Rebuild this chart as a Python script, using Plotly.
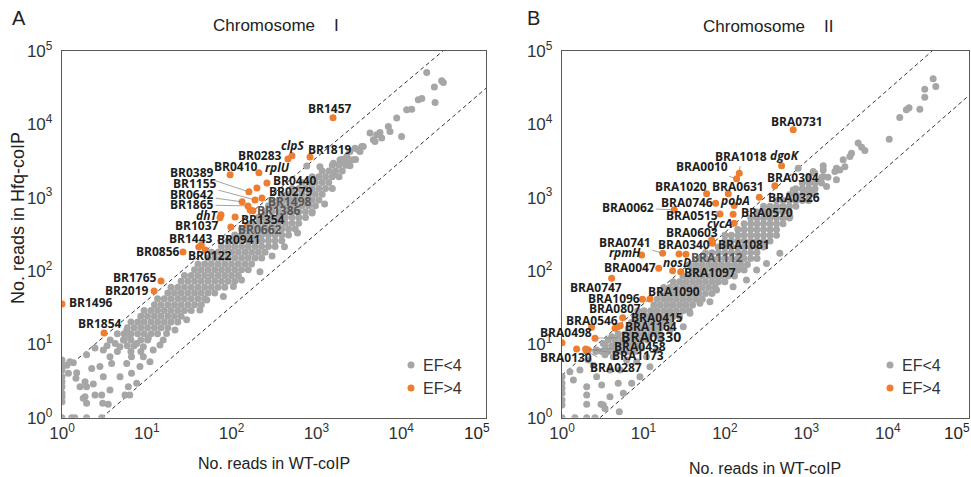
import math
import plotly.graph_objects as go

W, H = 971, 477

# ======================= DATA : Chromosome I (panel A) =======================
# gray cloud (EF<4), dense band stored row by row (Hfq-coIP reads per row)
gray_a_row_y = [8, 9.6, 11.5, 14, 16.8, 20.2, 24.2, 29, 34.8, 41.8, 50.2, 60.2, 72.3, 86.7,
                104, 125, 150, 180, 216, 259, 311, 373, 448, 537, 645, 774, 929, 1115, 1338,
                1605, 1926, 2311, 2773, 3328]
gray_a_row_x = [
    [4.5, 6.5, 8.5],
    [3.4, 5.9, 7.1],
    [3.7, 5.4, 6.5, 8.5, 10.2],
    [4.5, 5.4, 6.5, 7.8, 9.3, 11.2, 13.4],
    [5.9, 7.1, 8.5, 10.2, 12.3, 14.7, 17.7],
    [6.5, 7.8, 9.3, 11.2, 13.4, 16.1, 19.3, 23.2],
    [8.5, 10.2, 12.3, 14.7, 17.7, 21.2, 25.4],
    [9.3, 11.2, 13.4, 16.1, 19.3, 23.2, 27.8, 33.4],
    [12.3, 14.7, 17.7, 21.2, 25.4, 30.5, 36.6, 43.9],
    [13.4, 16.1, 19.3, 23.2, 27.8, 33.4, 40.1, 48.1],
    [17.7, 21.2, 25.4, 30.5, 36.6, 43.9, 52.7, 63.2],
    [19.3, 23.2, 27.8, 33.4, 40.1, 48.1, 57.7, 69.3, 83.1],
    [25.4, 30.5, 36.6, 43.9, 52.7, 63.2, 75.9, 91, 109],
    [27.8, 33.4, 40.1, 48.1, 57.7, 69.3, 83.1, 99.8, 120],
    [36.6, 43.9, 52.7, 63.2, 75.9, 91, 109, 131, 157],
    [40.1, 48.1, 57.7, 69.3, 83.1, 99.8, 120, 144, 172],
    [52.7, 63.2, 75.9, 91, 109, 131, 157, 189, 226],
    [57.7, 69.3, 83.1, 99.8, 120, 144, 172, 207, 248],
    [75.9, 91, 109, 131, 157, 189, 226, 272, 326],
    [91, 109, 131, 157, 189, 226, 272, 326, 391],
    [109, 131, 157, 189, 226, 272, 326, 391, 469],
    [131, 157, 189, 226, 272, 326, 391, 469, 563],
    [172, 207, 248, 298, 358, 430, 516, 619],
    [207, 248, 298, 358, 430, 516, 619, 743],
    [248, 298, 358, 430, 516, 619, 743, 892],
    [272, 326, 391, 469, 563, 676, 811, 973],
    [298, 358, 430, 516, 619, 743, 892, 1070],
    [391, 469, 563, 676, 811, 973, 1170],
    [516, 619, 743, 892, 1070, 1280, 1540],
    [676, 811, 973, 1170, 1400],
    [892, 1070, 1280, 1540, 1850],
    [1170, 1400, 1680, 2020],
    [1540, 1850, 2220],
    [2020, 2430, 2900],
]
# scattered gray points (low counts, lower edge, high-count tail)
gray_a_sparse_x = [1, 1, 1, 1, 1, 1, 1, 1, 1, 1,
                   1.3, 1.42, 1.95, 2.94,
                   1.19, 1.49, 1.46, 1.95, 2.34, 3.07, 1.87, 2.45, 2.94, 3.02, 1.95, 3.68, 4.83,
                   5.53, 6.06, 6.6, 7.6, 3.85, 3.07, 3.68, 4.24, 4.83, 2.8, 2.24, 1.87, 1.63,
                   1.14, 1.36, 5.8, 6.6, 8.3, 9.1, 10.9, 7.6, 6.3, 5.3, 5.8, 9.1, 11.9, 14.3,
                   15.6, 10.4, 17.1, 21.5, 29.5, 1.78, 3.51, 6.3, 1.24, 1.95, 2.45,
                   42.3, 50.9, 80, 105, 131, 216, 300, 420, 600, 890, 1250,
                   20000, 30000, 31400, 24600, 17500, 15900, 25100, 13300, 11600, 8850, 7050,
                   10100, 5620, 5140, 4690, 4290, 3420, 2850, 2490, 3270, 1590, 1100, 2280,
                   1900, 3570, 3120, 7380, 5890, 4910, 2720, 2170, 2490, 1580, 770]
gray_a_sparse_y = [6.1, 5.2, 4.48, 3.63, 3.1, 2.65, 2.15, 1.93, 1.65, 1,
                   1, 1, 1, 1,
                   4.03, 4.1, 3.45, 2.65, 2.88, 3.63, 1.93, 2.04, 2.04, 1.57, 1.57, 2.39, 3.63,
                   2.04, 2.65, 4.03, 2.95, 5.5, 8.4, 6.8, 10.3, 9.3, 5.0, 4.7, 3.1, 2.65,
                   5.2, 5.6, 5.5, 6.8, 5.0, 6.8, 5.8, 10.3, 12.7, 11.5, 15.7, 9.3, 8.4, 9.8,
                   11.5, 12.1, 14.1, 15.7, 21.6, 1.84, 1.52, 2.04, 5.8, 7.2, 8.9,
                   29.4, 40.3, 44.8, 61.5, 75.6, 98, 160, 215, 330, 620, 820,
                   50900, 39300, 37200, 32200, 22500, 21600, 19800, 16100, 15800, 12200, 9330,
                   6820, 7730, 7190, 6150, 7590, 4980, 4730, 4250, 4250, 2950, 2650, 3640,
                   3280, 4980, 4490, 7980, 6490, 5820, 3280, 2950, 2716, 2050, 2700]

# orange points (EF>4)
orange_a_gene = ["BR1457", "BR0283", "clpS", "BR1819", "BR0410", "rplU", "BR0440", "BR0389",
                 "BR0279", "BR1155", "BR1498", "BR0642", "BR1865", "BR1386", "", "dhT", "",
                 "BR1354", "BR1037", "BR0662", "BR1443", "BR0941", "BR0122", "BR0856",
                 "BR1765", "BR2019", "BR1496", "BR1854"]
orange_a_x = [1570, 462, 515, 841, 96, 210, 261, 160, 199, 189, 228, 133, 156, 179, 165, 75, 73,
              110, 98, 152, 41, 44, 49, 26.7, 14.7, 12.2, 1, 3.13]
orange_a_y = [12270, 3380, 3720, 3600, 2050, 2180, 1590, 1200, 1360, 933, 993, 877, 773, 661,
              682, 583, 531, 547, 399, 412, 213, 227, 194, 182, 73, 53.5, 35.6, 14.3]
orange_a_hidden = ["BR0662", "BR0122"]   # dots covered by the gray cloud

# ======================= DATA : Chromosome II (panel B) ======================
gray_b_row_y = [8, 9.6, 11.5, 13.8, 16.6, 19.9, 23.9, 28.7, 34.4, 41.3, 49.5, 59.4, 71.3, 85.6,
                103, 123, 148, 178, 213, 256, 307, 368, 442, 530, 636, 763, 916, 1099, 1319,
                1583, 1900]
gray_b_row_x = [
    [2.6, 3.1, 3.7, 4.5, 5.4, 6.5, 7.8],
    [3.4, 4.1, 4.9, 5.9, 7.1, 8.5],
    [3.7, 4.5, 5.4, 6.5, 7.8, 9.3, 11.2],
    [4.9, 5.9, 7.1, 8.5, 10.2, 12.3, 14.7],
    [6.5, 7.8, 9.3, 11.2, 13.4, 16.1],
    [7.1, 8.5, 10.2, 12.3, 14.7, 17.7, 21.2],
    [7.8, 9.3, 11.2, 13.4, 16.1, 19.3, 23.2, 27.8],
    [8.5, 10.2, 12.3, 14.7, 17.7, 21.2, 25.4, 30.5, 36.6],
    [13.4, 16.1, 19.3, 23.2, 27.8, 33.4, 40.1],
    [14.7, 17.7, 21.2, 25.4, 30.5, 36.6, 43.9, 52.7],
    [16.1, 19.3, 23.2, 27.8, 33.4, 40.1, 48.1, 57.7, 69.3],
    [17.7, 21.2, 25.4, 30.5, 36.6, 43.9, 52.7, 63.2, 75.9],
    [23.2, 27.8, 33.4, 40.1, 48.1, 57.7, 69.3, 83.1, 99.8],
    [30.5, 36.6, 43.9, 52.7, 63.2, 75.9, 91, 109, 131],
    [40.1, 48.1, 57.7, 69.3, 83.1, 99.8, 120, 144, 172],
    [36.6, 43.9, 52.7, 63.2, 75.9, 91, 109, 131, 157, 189],
    [48.1, 57.7, 69.3, 83.1, 99.8, 120, 144, 172, 207, 248],
    [57.7, 69.3, 83.1, 99.8, 120, 144, 172, 207, 248],
    [83.1, 99.8, 120, 144, 172, 207, 248, 298],
    [99.8, 120, 144, 172, 207, 248, 298, 358],
    [99.8, 120, 144, 172, 207, 248, 298, 358, 430],
    [144, 172, 207, 248, 298, 358, 430],
    [172, 207, 248, 298, 358, 430, 516],
    [207, 248, 298, 358, 430, 516, 619],
    [248, 298, 358, 430, 516, 619],
    [298, 358, 430, 516, 619, 743],
    [430, 516, 619, 743, 892, 1070],
    [619, 743, 892, 1070, 1280],
    [743, 892, 1070, 1280],
    [892, 1070, 1280, 1540],
    [1070, 1540, 1840],
]
gray_b_sparse_x = [1, 1, 1, 1, 1, 1, 1,
                   1.44, 2.01, 2.54,
                   2.01, 2.01, 3.01, 3.37, 5.05, 1.38, 2.01, 3.21, 3.07, 2.66, 3.88, 5.16, 3.88,
                   4.9, 5.66, 7.16, 12.0, 9.05, 8.26, 6.22, 4.26, 3.37, 2.42, 1.66, 1.25, 2.1,
                   2.66, 3.21, 4.26, 4.07, 5.93, 6.82, 9.5, 10.9, 14.5, 15.9, 21.1, 30.8, 37.2,
                   49.3, 65.4, 78.9, 126, 184, 245, 324, 472,
                   36000, 38800, 28400, 28400, 24700, 16900, 18200, 14000, 10400, 4320, 4760,
                   5220, 3580, 3420, 2830, 2970, 2340, 2240, 1610, 1610, 1270, 1770, 2340, 794,
                   1213, 1610, 1334, 689, 914, 1052, 1211, 832, 1052, 628, 2570]
gray_b_sparse_y = [3.63, 2.95, 2.52, 2.15, 1.74, 1.49, 1,
                   1, 1, 1,
                   2.04, 1.52, 1.52, 1.34, 1.21, 3.27, 2.65, 1.49, 2.79, 3.63, 4.48, 4.48, 1.93,
                   2.95, 2.15, 2.95, 4.97, 3.63, 5.8, 6.1, 6.8, 7.2, 5.2, 4.48, 4.24, 6.1,
                   8.4, 10.3, 9.3, 12.7, 9.8, 11.5, 8.9, 6.8, 8.4, 12.7, 15.7, 17.4, 26.6,
                   36.3, 38.2, 55, 61, 75.6, 103, 127, 175,
                   41800, 32800, 30200, 23500, 16100, 15800, 16900, 12400, 6280, 5550, 4890,
                   4400, 4050, 3640, 3280, 2650, 2520, 2270, 2720, 2390, 2160, 1420, 1750, 2520,
                   2270, 1940, 1660, 1277, 1250, 1306, 1211, 1035, 933, 552, 2390]

orange_b_gene = ["BRA0731", "dgoK", "BRA1018", "BRA0010", "BRA0304", "BRA1020", "BRA0631",
                 "BRA0326", "BRA0746", "pobA", "BRA0062", "BRA0515", "BRA0570", "cycA",
                 "BRA0603", "BRA1081", "BRA0741", "BRA0340", "BRA1112", "rpmH", "BRA0047",
                 "nosD", "BRA1097", "BRA0747", "BRA1096", "BRA1090", "BRA0807", "BRA0546",
                 "BRA0415", "BRA1164", "", "BRA0330", "BRA0498", "BRA0130", "BRA1173",
                 "BRA0458", "BRA0287"]
orange_b_x = [689, 496, 150, 139, 410, 59.6, 110, 264, 76.9, 130, 23.9, 86.9, 126, 130, 68.7,
              70.6, 17.2, 27.3, 33.2, 9.5, 15.4, 22.8, 28.6, 4.07, 9.72, 12.0, 5.56, 2.31, 5.19,
              4.82, 4.47, 2.54, 1.0, 1.51, 1.95, 2.1, 2.0]
orange_b_y = [8410, 2716, 2160, 1806, 1449, 1127, 1127, 1016, 841, 780, 682, 601, 596, 449, 265,
              239, 175, 171, 169, 166, 109, 101, 98, 79.8, 41.2, 41.6, 23.1, 17.1, 18.0, 17.4,
              16.6, 12.1, 10.5, 8.65, 8.65, 8.39, 8.1]
orange_b_hidden = []

italic_genes = ["clpS", "rplU", "dhT", "dgoK", "pobA", "cycA", "rpmH", "nosD"]

# threshold guide lines
guide_a_upper_x, guide_a_upper_y = [1, 31000], [4.2, 100000]
guide_a_lower_x, guide_a_lower_y = [2.94, 100000], [1, 31000]
guide_b_upper_x, guide_b_upper_y = [1, 35000], [3.8, 100000]
guide_b_lower_x, guide_b_lower_y = [2.93, 100000], [1, 25000]

tick_vals = [1, 10, 100, 1000, 10000, 100000]
tick_text = ["10<sup>0</sup>", "10<sup>1</sup>", "10<sup>2</sup>", "10<sup>3</sup>",
             "10<sup>4</sup>", "10<sup>5</sup>"]

# ======================= LAYOUT / STYLE =======================================
GRAY = "#a6a6a6"
ORANGE = "#ef7d2f"
AX_FONT = "Liberation Sans, Arial, sans-serif"
LB_FONT = "Open Sans, Noto Sans, sans-serif"

# label placement: (mode, dx, dy) in pixels; 's' = plain shifted text, 'a' = leader line
label_pos_a = {
    "BR1457": ("s", -3, -9), "BR0283": ("s", -28, -3), "clpS": ("s", 1, -10),
    "BR1819": ("s", 20, -7), "BR0410": ("s", 6, -8), "rplU": ("s", 19, -5),
    "BR0440": ("s", 28, -2), "BR0389": ("a", -57, -19), "BR0279": ("s", 34, 4),
    "BR1155": ("a", -60, -16), "BR1498": ("s", 28, 4), "BR0642": ("a", -50, -7),
    "BR1865": ("a", -56, -1), "BR1386": ("s", 26, 0), "dhT": ("s", -14, 1),
    "BR1354": ("s", 28, 3), "BR1037": ("s", -34, -1), "BR0662": ("s", 13, 4),
    "BR1443": ("s", -8, -8), "BR0941": ("s", 37, -5), "BR0122": ("s", 5, 6),
    "BR0856": ("s", -25, 0), "BR1765": ("s", -26, -4), "BR2019": ("s", -27, 0),
    "BR1496": ("s", 29, -1), "BR1854": ("s", -4, -9),
}
label_pos_b = {
    "BRA0731": ("s", 4, -8), "dgoK": ("s", 3, -10), "BRA1018": ("a", 2, -17),
    "BRA0010": ("a", -35, -12), "BRA0304": ("s", 18, -8), "BRA1020": ("s", -26, -7),
    "BRA0631": ("s", 10, -7), "BRA0326": ("s", 35, 0), "BRA0746": ("s", -29, -1),
    "pobA": ("s", 1, -5), "BRA0062": ("a", -46, -2), "BRA0515": ("s", -28, 2),
    "BRA0570": ("s", 34, -2), "cycA": ("s", -15, 0), "BRA0603": ("s", -20, -7),
    "BRA1081": ("s", 31, 1), "BRA0741": ("a", -38, -11), "BRA0340": ("s", 5, -9),
    "BRA1112": ("s", 31, 3), "rpmH": ("s", -17, -2), "BRA0047": ("s", -29, -1),
    "nosD": ("s", 4, -8), "BRA1097": ("s", 29, 1), "BRA0747": ("s", -16, 9),
    "BRA1096": ("s", -28, -1), "BRA1090": ("s", 24, -7), "BRA0807": ("s", -8, -9),
    "BRA0546": ("s", 0, -7), "BRA0415": ("s", 37, -8), "BRA1164": ("s", 33, 0),
    "BRA0330": ("a", 56, -2), "BRA0498": ("s", 4, -10), "BRA0130": ("s", -11, 9),
    "BRA1173": ("a", 52, 7), "BRA0458": ("a", 52, -3), "BRA0287": ("a", 29, 16),
}
muted_labels = ["BR1498", "BR1386", "BR0662", "BRA1112"]
big_labels = ["BRA0330"]


def flatten(rows_y, rows_x):
    xs, ys = [], []
    for y, row in zip(rows_y, rows_x):
        for x in row:
            xs.append(x)
            ys.append(y)
    return xs, ys


fig = go.Figure()
annotations = []


def add_panel(xa, ya, row_y, row_x, sp_x, sp_y, genes, ox, oy, hidden, upper, lower, pos):
    gx, gy = flatten(row_y, row_x)
    gx += sp_x
    gy += sp_y
    for lx, ly in (upper, lower):
        fig.add_trace(go.Scatter(x=lx, y=ly, mode="lines", xaxis=xa, yaxis=ya,
                                 line=dict(color="#333333", width=1, dash="4px,3px"),
                                 showlegend=False, hoverinfo="skip"))
    hx = [x for g, x in zip(genes, ox) if g in hidden]
    hy = [y for g, y in zip(genes, oy) if g in hidden]
    if hx:
        fig.add_trace(go.Scatter(x=hx, y=hy, mode="markers", xaxis=xa, yaxis=ya,
                                 marker=dict(color=ORANGE, size=7), showlegend=False))
    fig.add_trace(go.Scatter(x=gx, y=gy, mode="markers", xaxis=xa, yaxis=ya,
                             marker=dict(color=GRAY, size=7), showlegend=False, name="EF<4"))
    vx = [x for g, x in zip(genes, ox) if g not in hidden]
    vy = [y for g, y in zip(genes, oy) if g not in hidden]
    fig.add_trace(go.Scatter(x=vx, y=vy, mode="markers", xaxis=xa, yaxis=ya,
                             marker=dict(color=ORANGE, size=7), showlegend=False, name="EF>4"))
    xref = "x" if xa == "x" else "x2"
    yref = "y" if ya == "y" else "y2"
    for g, x, y in zip(genes, ox, oy):
        if not g:
            continue
        mode, dx, dy = pos[g]
        txt = "<i>" + g + "</i>" if g in italic_genes else g
        txt = "<b>" + txt + "</b>"
        col = "#555555" if g in muted_labels else "#1e1e1e"
        size = 14 if g in big_labels else 12
        a = dict(x=math.log10(x), y=math.log10(y), xref=xref, yref=yref, text=txt,
                 font=dict(family=LB_FONT, size=size, color=col))
        if mode == "s":
            a.update(showarrow=False, xshift=dx, yshift=-dy)
        else:
            a.update(showarrow=True, ax=dx, ay=dy, arrowhead=0, arrowwidth=0.8,
                     arrowcolor="#8c8c8c", standoff=2)
        annotations.append(a)


add_panel("x", "y", gray_a_row_y, gray_a_row_x, gray_a_sparse_x, gray_a_sparse_y,
          orange_a_gene, orange_a_x, orange_a_y, orange_a_hidden,
          (guide_a_upper_x, guide_a_upper_y), (guide_a_lower_x, guide_a_lower_y), label_pos_a)
add_panel("x2", "y2", gray_b_row_y, gray_b_row_x, gray_b_sparse_x, gray_b_sparse_y,
          orange_b_gene, orange_b_x, orange_b_y, orange_b_hidden,
          (guide_b_upper_x, guide_b_upper_y), (guide_b_lower_x, guide_b_lower_y), label_pos_b)


def px(x):
    return x / W


def py(y):
    return 1 - y / H


def axis(domain, anchor, tt):
    return dict(domain=domain, anchor=anchor, type="log", range=[0, 5], automargin=False,
                tickvals=tick_vals, ticktext=tt, ticks="", showgrid=False, zeroline=False,
                showline=True, mirror=True, linecolor="#5a5a5a", linewidth=1.3,
                tickfont=dict(family=AX_FONT, size=17, color="#333333"))


xt = tick_text[:5] + [" "]
y_dom = [py(417.7), py(51)]
ya = axis(y_dom, "x", tick_text)
ya["ticklabelstandoff"] = 5
yb = axis(y_dom, "x2", tick_text)
yb["ticklabelstandoff"] = 5

# text annotations (titles, panel letters, axis titles, last tick labels, legend)
T = dict(family=AX_FONT, color="#222222")
for txt, x, y, size, extra in [
    ("A", 18.5, 18, 20, {}),
    ("B", 533, 18, 20, {}),
    ("Chromosome\u00a0\u00a0\u00a0\u00a0I", 276, 26, 17, {}),
    ("Chromosome\u00a0\u00a0\u00a0\u00a0II", 768, 27, 17, {}),
    ("No. reads in WT-coIP", 274, 463, 16, {}),
    ("No. reads in WT-coIP", 765, 468, 16, {}),
    ("No. reads in Hfq-coIP", 18, 218, 18, {"textangle": -90}),
    ("10<sup>5</sup>", 476.5, 432, 17, {}),
    ("10<sup>5</sup>", 956.5, 432, 17, {}),
]:
    a = dict(text=txt, x=px(x), y=py(y), xref="paper", yref="paper", showarrow=False,
             xanchor="center", yanchor="middle", font=dict(size=size, **T))
    a.update(extra)
    annotations.append(a)

shapes = []
for lx0 in (411, 890):
    for txt, yy, col in (("EF<4", 365, GRAY), ("EF>4", 388, ORANGE)):
        annotations.append(dict(text=txt, x=px(lx0 + 10), y=py(yy), xref="paper", yref="paper",
                                showarrow=False, xanchor="left", yanchor="middle",
                                font=dict(family=AX_FONT, size=16, color="#333333")))
        shapes.append(dict(type="circle", xref="paper", yref="paper", xsizemode="pixel",
                           ysizemode="pixel", xanchor=px(lx0), yanchor=py(yy),
                           x0=-3.5, x1=3.5, y0=-3.5, y1=3.5,
                           fillcolor=col, line=dict(width=0)))

fig.update_layout(
    width=W, height=H, margin=dict(l=0, r=0, t=0, b=0, autoexpand=False),
    paper_bgcolor="white", plot_bgcolor="white", showlegend=False,
    xaxis=axis([px(62), px(486)], "y", xt),
    yaxis=ya,
    xaxis2=axis([px(562), px(969.3)], "y2", xt),
    yaxis2=yb,
    annotations=annotations, shapes=shapes,
)

fig.write_html("out.html", config={"displayModeBar": False},
               post_script="document.body.style.margin='0px';")
